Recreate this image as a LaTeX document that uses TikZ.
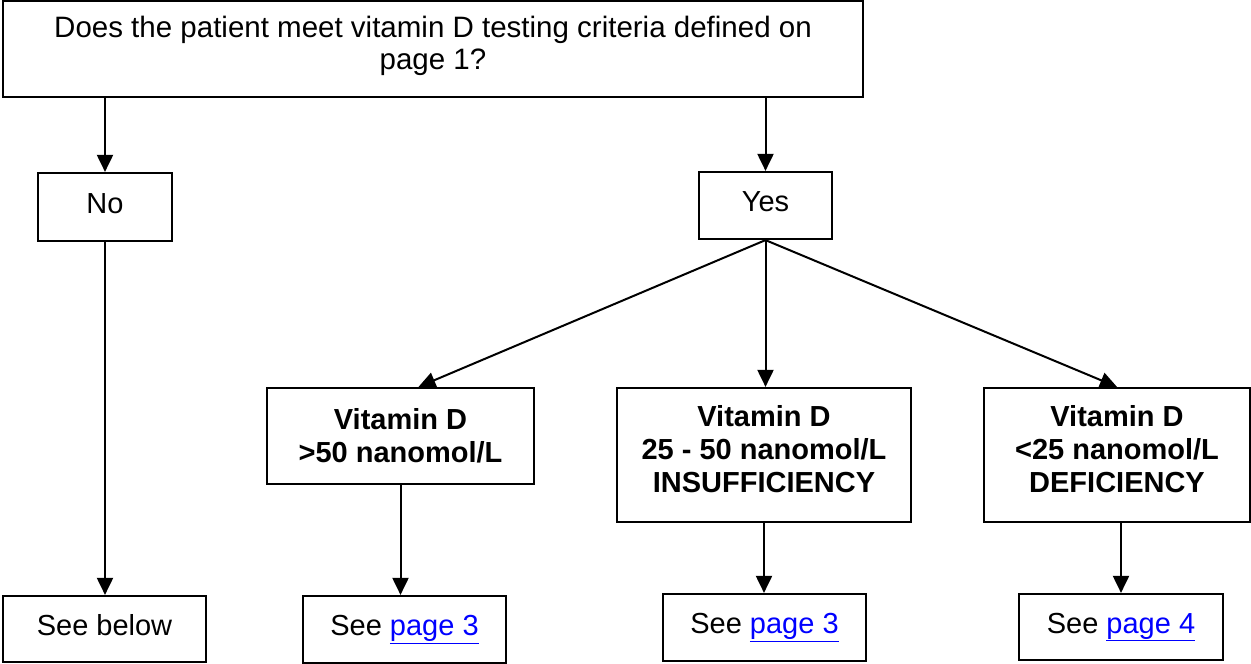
\documentclass[tikz,border=0pt]{standalone}
\usepackage{fontspec}
\setmainfont{Liberation Sans}
\usetikzlibrary{arrows.meta}
\definecolor{linkblue}{RGB}{0,0,255}
\newcommand{\lnk}[1]{\textcolor{linkblue}{\underline{#1}}}
\begin{document}
\begin{tikzpicture}[x=1pt,y=-1pt,
  box/.style={draw, line width=2.2pt, inner sep=0pt, align=center,
    font=\fontsize{29}{33.4}\selectfont},
  onebox/.style={box, text height=21pt, text depth=9pt},
  boldbox/.style={box, font=\fontsize{29}{33.4}\selectfont\bfseries},
  arr/.style={line width=2pt, -{Triangle[length=17pt,width=16pt]}}]
\useasboundingbox (0,0) rectangle (1251,664);
\node[box, minimum width=860pt, minimum height=96pt, text depth=12pt,
  font=\fontsize{29.5}{32}\selectfont] (q) at (433,49)
  {Does the patient meet vitamin D testing criteria defined on\\page 1?};
\node[onebox, minimum width=134pt, minimum height=68pt] (no) at (105,207) {No};
\node[onebox, minimum width=133pt, minimum height=67pt] (yes) at (765.5,205.5) {Yes};
\node[boldbox, minimum width=267pt, minimum height=96pt] (v1) at (400.5,436)
  {Vitamin D\\>50 nanomol/L};
\node[boldbox, minimum width=294pt, minimum height=134pt, text depth=12pt] (v2) at (764,455)
  {Vitamin D\\25 - 50 nanomol/L\\INSUFFICIENCY};
\node[boldbox, minimum width=266pt, minimum height=134pt, text depth=12pt] (v3) at (1117,455)
  {Vitamin D\\<25 nanomol/L\\DEFICIENCY};
\node[onebox, minimum width=203pt, minimum height=66pt] (below) at (104.5,629) {See below};
\node[onebox, minimum width=203pt, minimum height=67pt] (p1) at (404.5,629.5) {See \lnk{page 3}};
\node[onebox, minimum width=203pt, minimum height=67pt] (p2) at (764.5,627.5) {See \lnk{page 3}};
\node[onebox, minimum width=204pt, minimum height=66pt] (p3) at (1121,627) {See \lnk{page 4}};
\draw[arr] (no.north |- q.south) -- (no.north);
\draw[arr] (yes.north |- q.south) -- (yes.north);
\draw[arr] (no.south) -- (no.south |- below.north);
\draw[arr] (yes.south) -- ([xshift=18pt]v1.north);
\draw[arr] (yes.south) -- (yes.south |- v2.north);
\draw[arr] (yes.south) -- (v3.north);
\draw[arr] (v1.south) -- (v1.south |- p1.north);
\draw[arr] (v2.south) -- (v2.south |- p2.north);
\draw[arr] (p3.north |- v3.south) -- (p3.north);
\end{tikzpicture}
\end{document}
